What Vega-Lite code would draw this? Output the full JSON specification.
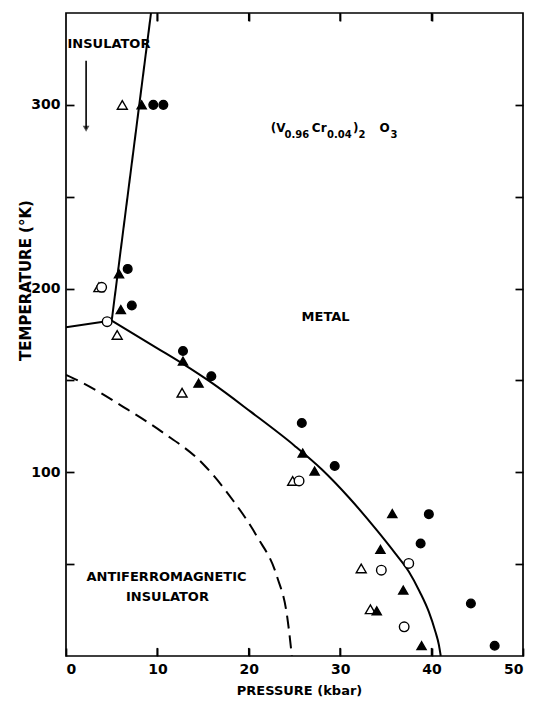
{
  "$schema": "https://vega.github.io/schema/vega-lite/v6.json",
  "width": 457,
  "height": 643,
  "autosize": {"type": "none"},
  "padding": {"left": 66, "top": 13, "right": 15, "bottom": 46},
  "background": "white",
  "config": {
    "view": {"stroke": "black", "strokeWidth": 1.7},
    "axis": {
      "domain": false,
      "grid": false,
      "tickColor": "black",
      "tickWidth": 1.7,
      "tickSize": -8,
      "labelColor": "black",
      "labelFont": "DejaVu Sans",
      "labelFontSize": 14,
      "labelFontWeight": "bold",
      "titleFont": "DejaVu Sans",
      "titleFontSize": 13,
      "titleFontWeight": "bold",
      "titleColor": "black"
    },
    "text": {"font": "DejaVu Sans", "color": "black", "fontWeight": "bold"}
  },
  "datasets": {
    "points": [
      {"P": 6.16, "T": 300, "kind": "open triangle"},
      {"P": 8.28, "T": 300, "kind": "filled triangle"},
      {"P": 9.55, "T": 300, "kind": "filled circle"},
      {"P": 10.65, "T": 300, "kind": "filled circle"},
      {"P": 3.6, "T": 200.7, "kind": "open triangle"},
      {"P": 3.9, "T": 200.7, "kind": "open circle"},
      {"P": 5.8, "T": 208, "kind": "filled triangle"},
      {"P": 6.75, "T": 210.7, "kind": "filled circle"},
      {"P": 6.0, "T": 188.6, "kind": "filled triangle"},
      {"P": 7.2, "T": 190.8, "kind": "filled circle"},
      {"P": 4.5, "T": 182, "kind": "open circle"},
      {"P": 5.6, "T": 174.8, "kind": "open triangle"},
      {"P": 12.8, "T": 166, "kind": "filled circle"},
      {"P": 12.8, "T": 160.5, "kind": "filled triangle"},
      {"P": 15.9, "T": 152.3, "kind": "filled circle"},
      {"P": 14.5, "T": 148.5, "kind": "filled triangle"},
      {"P": 12.7, "T": 143.3, "kind": "open triangle"},
      {"P": 25.8, "T": 126.8, "kind": "filled circle"},
      {"P": 25.9, "T": 110.5, "kind": "filled triangle"},
      {"P": 27.2, "T": 100.7, "kind": "filled triangle"},
      {"P": 29.4, "T": 103.4, "kind": "filled circle"},
      {"P": 24.8, "T": 95.3, "kind": "open triangle"},
      {"P": 25.5, "T": 95.3, "kind": "open circle"},
      {"P": 35.7, "T": 77.5, "kind": "filled triangle"},
      {"P": 39.7, "T": 77.2, "kind": "filled circle"},
      {"P": 38.8, "T": 61.2, "kind": "filled circle"},
      {"P": 34.4, "T": 58, "kind": "filled triangle"},
      {"P": 32.3, "T": 47.7, "kind": "open triangle"},
      {"P": 34.5, "T": 46.7, "kind": "open circle"},
      {"P": 37.5, "T": 50.4, "kind": "open circle"},
      {"P": 36.9, "T": 35.9, "kind": "filled triangle"},
      {"P": 44.3, "T": 28.6, "kind": "filled circle"},
      {"P": 33.3, "T": 25.4, "kind": "open triangle"},
      {"P": 34.0, "T": 24.6, "kind": "filled triangle"},
      {"P": 37.0, "T": 15.9, "kind": "open circle"},
      {"P": 38.9, "T": 5.6, "kind": "filled triangle"},
      {"P": 46.9, "T": 5.6, "kind": "filled circle"}
    ],
    "straight": [
      {"P": 0, "T": 179, "seg": "A"},
      {"P": 5.0, "T": 182.6, "seg": "A"},
      {"P": 5.0, "T": 182.6, "seg": "B"},
      {"P": 9.3, "T": 350, "seg": "B"}
    ],
    "curve": [
      {"P": 5.0, "T": 182.6},
      {"P": 10, "T": 167.5},
      {"P": 12.8, "T": 159},
      {"P": 16, "T": 148.5},
      {"P": 20.2, "T": 133},
      {"P": 25, "T": 114.5},
      {"P": 28, "T": 101.5},
      {"P": 31, "T": 86},
      {"P": 34, "T": 68.5},
      {"P": 36, "T": 56},
      {"P": 37.5, "T": 46},
      {"P": 38.7, "T": 35},
      {"P": 39.7, "T": 24},
      {"P": 40.4, "T": 13.5},
      {"P": 40.8, "T": 6},
      {"P": 41.0, "T": 0}
    ],
    "dashed": [
      {"P": 0, "T": 153},
      {"P": 1.7, "T": 149},
      {"P": 6.3, "T": 135.5},
      {"P": 10.5, "T": 122},
      {"P": 15.1, "T": 104},
      {"P": 18.3, "T": 84.5},
      {"P": 20.9, "T": 65},
      {"P": 23.1, "T": 43},
      {"P": 24.2, "T": 21.4},
      {"P": 24.6, "T": 5},
      {"P": 24.7, "T": 0}
    ],
    "xticks": [
      {"P": 10, "T": 0, "T2": 4.4},
      {"P": 20, "T": 0, "T2": 4.4},
      {"P": 30, "T": 0, "T2": 4.4},
      {"P": 40, "T": 0, "T2": 4.4},
      {"P": 10, "T": 345.6, "T2": 350},
      {"P": 20, "T": 345.6, "T2": 350},
      {"P": 30, "T": 345.6, "T2": 350},
      {"P": 40, "T": 345.6, "T2": 350}
    ],
    "labels": [
      {"text": "INSULATOR", "P": 4.7, "T": 333},
      {"text": "METAL", "P": 28.4, "T": 184.4},
      {"text": "ANTIFERROMAGNETIC", "P": 11.0, "T": 43},
      {"text": "INSULATOR", "P": 11.1, "T": 32.3}
    ],
    "formulaMain": [
      {"text": "(V", "P": 22.4, "T": 287.5},
      {"text": "Cr", "P": 26.9, "T": 287.5},
      {"text": ")", "P": 31.4, "T": 287.5},
      {"text": "O", "P": 34.3, "T": 287.5}
    ],
    "formulaSub": [
      {"text": "0.96", "P": 23.9, "T": 283.7},
      {"text": "0.04", "P": 28.55, "T": 283.7},
      {"text": "2", "P": 32.0, "T": 283.7},
      {"text": "3", "P": 35.5, "T": 283.7}
    ],
    "arrow": [
      {"P": 2.2, "T": 324, "T2": 287}
    ]
  },
  "layer": [
    {
      "data": {"name": "dashed"},
      "mark": {"type": "line", "color": "black", "strokeWidth": 2, "strokeDash": [13, 7], "interpolate": "monotone", "clip": true},
      "encoding": {
        "x": {
          "field": "P", "type": "quantitative",
          "scale": {"domain": [0, 50], "nice": false, "zero": false},
          "axis": {"orient": "bottom", "values": [0, 10, 20, 30, 40, 50], "labelPadding": 14, "title": "PRESSURE  (kbar)", "titleX": 233, "titleY": 34, "titleBaseline": "middle", "titleAnchor": "middle", "titleAlign": "center"}
        },
        "y": {
          "field": "T", "type": "quantitative",
          "scale": {"domain": [0, 350], "nice": false, "zero": false},
          "axis": {"orient": "left", "values": [50, 100, 150, 200, 250, 300], "labelExpr": "datum.value % 100 === 0 ? datum.label : ''", "labelPadding": 14, "title": "TEMPERATURE  (°K)", "titleFontSize": 15, "titleX": -41, "titleY": 267, "titleAngle": -90, "titleBaseline": "middle", "titleAlign": "center"}
        }
      }
    },
    {
      "data": {"name": "straight"},
      "mark": {"type": "line", "color": "black", "strokeWidth": 2, "clip": true},
      "encoding": {
        "x": {"field": "P", "type": "quantitative", "axis": {"orient": "top", "values": [10, 20, 30, 40], "labels": false, "title": null}},
        "y": {"field": "T", "type": "quantitative", "axis": {"orient": "right", "values": [50, 100, 150, 200, 250, 300], "labels": false, "title": null}},
        "detail": {"field": "seg"}
      }
    },
    {
      "data": {"name": "xticks"},
      "mark": {"type": "rule", "color": "black", "strokeWidth": 1.7},
      "encoding": {
        "x": {"field": "P", "type": "quantitative", "axis": null},
        "y": {"field": "T", "type": "quantitative", "axis": null},
        "y2": {"field": "T2"}
      }
    },
    {
      "data": {"name": "curve"},
      "mark": {"type": "line", "color": "black", "strokeWidth": 2, "interpolate": "monotone", "clip": true},
      "encoding": {
        "x": {"field": "P", "type": "quantitative", "axis": null},
        "y": {"field": "T", "type": "quantitative", "axis": null}
      }
    },
    {
      "data": {"name": "arrow"},
      "mark": {"type": "rule", "color": "black", "strokeWidth": 1.6},
      "encoding": {
        "x": {"field": "P", "type": "quantitative", "axis": null},
        "y": {"field": "T", "type": "quantitative", "axis": null},
        "y2": {"field": "T2"}
      }
    },
    {
      "data": {"name": "arrow"},
      "mark": {"type": "point", "shape": "triangle-down", "filled": true, "color": "black", "size": 45},
      "encoding": {
        "x": {"field": "P", "type": "quantitative", "axis": null},
        "y": {"field": "T2", "type": "quantitative", "axis": null}
      }
    },
    {
      "data": {"name": "points"},
      "mark": {"type": "point", "stroke": "black", "strokeWidth": 1.4, "opacity": 1},
      "encoding": {
        "x": {"field": "P", "type": "quantitative", "axis": null},
        "y": {"field": "T", "type": "quantitative", "axis": null},
        "shape": {
          "field": "kind", "type": "nominal",
          "scale": {"domain": ["filled circle", "filled triangle", "open circle", "open triangle"], "range": ["circle", "triangle-up", "circle", "triangle-up"]},
          "legend": null
        },
        "fill": {
          "field": "kind", "type": "nominal",
          "scale": {"domain": ["filled circle", "filled triangle", "open circle", "open triangle"], "range": ["black", "black", "white", "white"]},
          "legend": null
        },
        "size": {
          "field": "kind", "type": "nominal",
          "scale": {"domain": ["filled circle", "filled triangle", "open circle", "open triangle"], "range": [75, 100, 70, 90]},
          "legend": null
        }
      }
    },
    {
      "data": {"name": "labels"},
      "mark": {"type": "text", "fontSize": 13, "align": "center", "baseline": "middle"},
      "encoding": {
        "x": {"field": "P", "type": "quantitative", "axis": null},
        "y": {"field": "T", "type": "quantitative", "axis": null},
        "text": {"field": "text"}
      }
    },
    {
      "data": {"name": "formulaMain"},
      "mark": {"type": "text", "fontSize": 12, "align": "left", "baseline": "middle"},
      "encoding": {
        "x": {"field": "P", "type": "quantitative", "axis": null},
        "y": {"field": "T", "type": "quantitative", "axis": null},
        "text": {"field": "text"}
      }
    },
    {
      "data": {"name": "formulaSub"},
      "mark": {"type": "text", "fontSize": 10, "align": "left", "baseline": "middle"},
      "encoding": {
        "x": {"field": "P", "type": "quantitative", "axis": null},
        "y": {"field": "T", "type": "quantitative", "axis": null},
        "text": {"field": "text"}
      }
    }
  ]
}
